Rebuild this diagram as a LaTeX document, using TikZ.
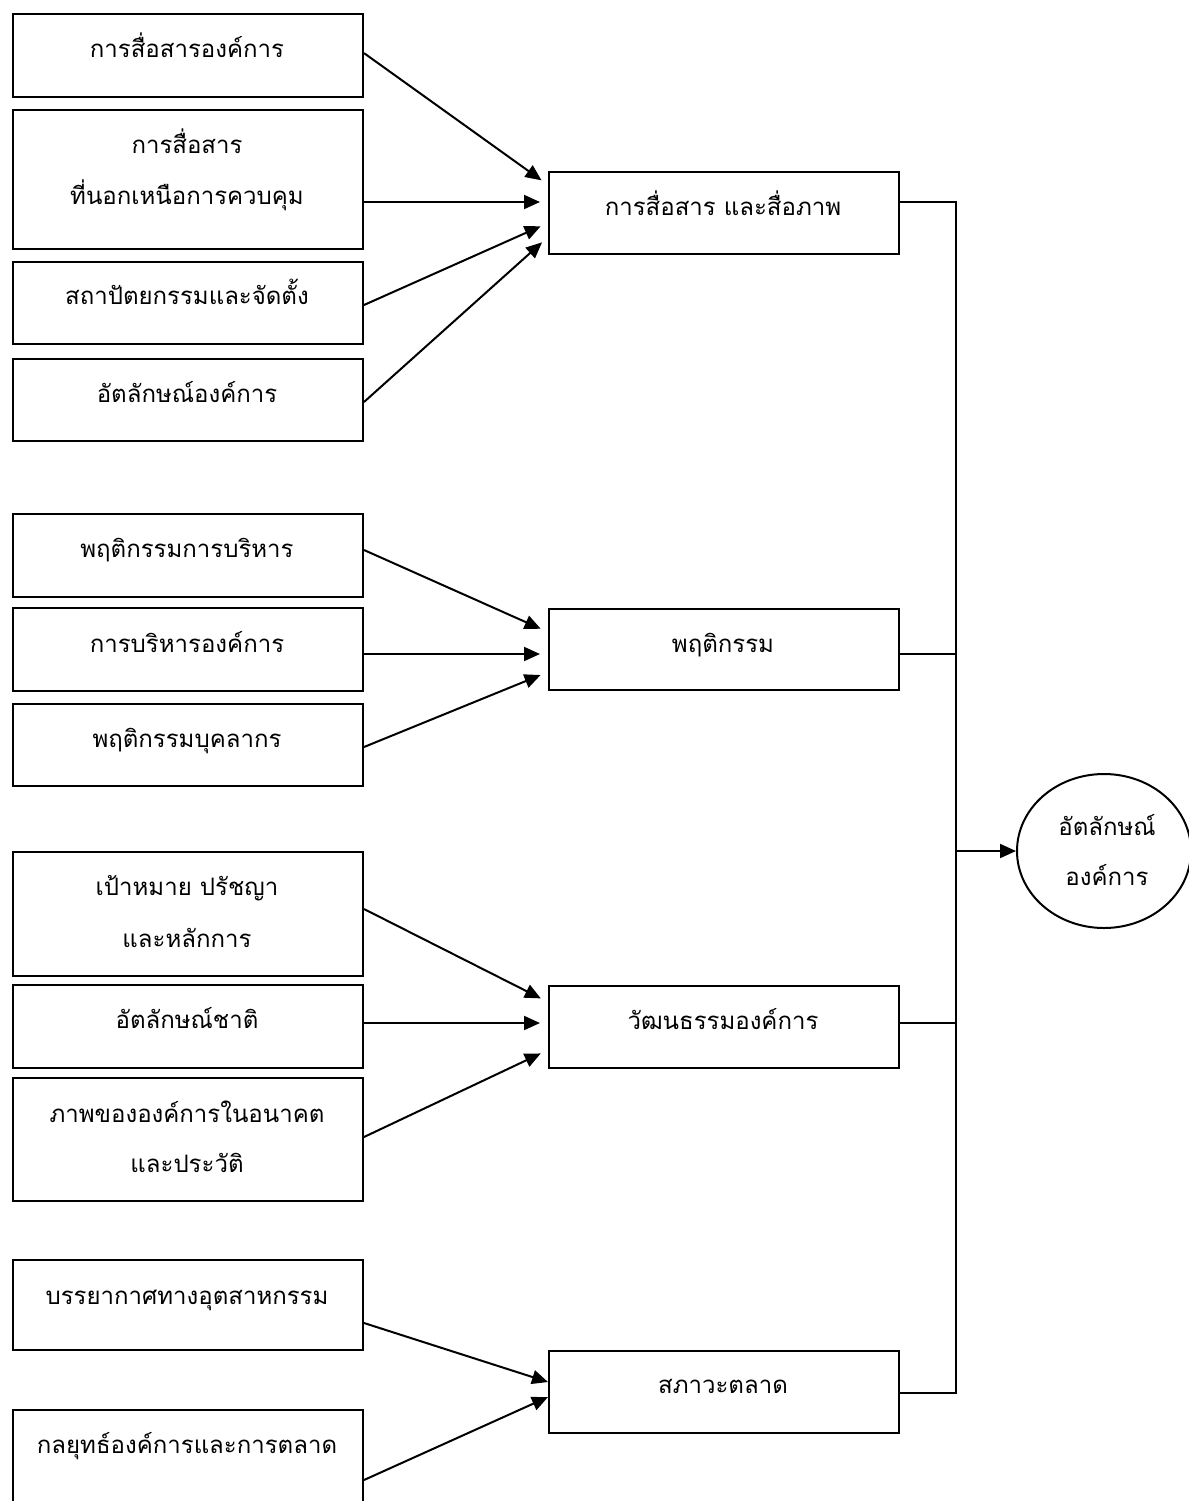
\documentclass[tikz,border=0pt]{standalone}
\usepackage{fontspec}
\newfontfamily\thaifont[Script=Thai]{Loma}
\usetikzlibrary{arrows.meta,shapes.geometric}

\begin{document}
\begin{tikzpicture}[
  x=0.5pt, y=-0.5pt,
  box/.style={draw, line width=1pt, anchor=north west, inner sep=0pt,
              minimum width=175pt},
  txt/.style={anchor=base, inner sep=0pt, font=\thaifont\fontsize{12pt}{14pt}\selectfont},
  link/.style={line width=1pt},
  tip/.style={-{Triangle[length=8pt,width=7pt]}},
  arrowline/.style={line width=1pt, tip, shorten >=4pt},
  arrowtouch/.style={line width=1pt, tip}
]
\clip (0,0) rectangle (1189,1501);

% ---- left column: factor boxes ----
\node[box, minimum height=41.5pt] (L1)  at (12,12.7) {};
\node[box, minimum height=69.5pt] (L2)  at (12,109)  {};
\node[box, minimum height=41pt]   (L3)  at (12,261)  {};
\node[box, minimum height=41pt]   (L4)  at (12,358)  {};
\node[box, minimum height=41.5pt] (L5)  at (12,513)  {};
\node[box, minimum height=41.5pt] (L6)  at (12,607)  {};
\node[box, minimum height=41pt]   (L7)  at (12,703)  {};
\node[box, minimum height=62pt]   (L8)  at (12,851)  {};
\node[box, minimum height=41.5pt] (L9)  at (12,984)  {};
\node[box, minimum height=61.5pt] (L10) at (12,1077) {};
\node[box, minimum height=45pt]   (L11) at (12,1259) {};
\node[box, minimum height=60pt]   (L12) at (12,1409) {};

\node[txt] (L1a)  at (187,57)   {การสื่อสารองค์การ};
\node[txt] (L2a)  at (187,153)  {การสื่อสาร};
\node[txt] (L2b)  at (187,204)  {ที่นอกเหนือการควบคุม};
\node[txt] (L3a)  at (187,304)  {สถาปัตยกรรมและจัดตั้ง};
\node[txt] (L4a)  at (187,402)  {อัตลักษณ์องค์การ};
\node[txt] (L5a)  at (187,557)  {พฤติกรรมการบริหาร};
\node[txt] (L6a)  at (187,652)  {การบริหารองค์การ};
\node[txt] (L7a)  at (187,747)  {พฤติกรรมบุคลากร};
\node[txt] (L8a)  at (187,895)  {เป้าหมาย ปรัชญา};
\node[txt] (L8b)  at (187,947)  {และหลักการ};
\node[txt] (L9a)  at (187,1028) {อัตลักษณ์ชาติ};
\node[txt] (L10a) at (187,1122) {ภาพขององค์การในอนาคต};
\node[txt] (L10b) at (187,1172) {และประวัติ};
\node[txt] (L11a) at (187,1304) {บรรยากาศทางอุตสาหกรรม};
\node[txt] (L12a) at (187,1453) {กลยุทธ์องค์การและการตลาด};

% ---- middle column: component boxes ----
\node[box, minimum height=41pt]   (M1) at (548,171)  {};
\node[box, minimum height=40.5pt] (M2) at (548,608)  {};
\node[box, minimum height=41pt]   (M3) at (548,985)  {};
\node[box, minimum height=41pt]   (M4) at (548,1350) {};

\node[txt] (M1a) at (723,215)  {การสื่อสาร และสื่อภาพ};
\node[txt] (M2a) at (723,652)  {พฤติกรรม};
\node[txt] (M3a) at (723,1029) {วัฒนธรรมองค์การ};
\node[txt] (M4a) at (723,1393) {สภาวะตลาด};

% ---- outcome ----
\node[ellipse, draw, line width=1pt, inner sep=0pt,
      minimum width=87pt, minimum height=77pt] (R) at (1104,851) {};
\node[txt] (Ra) at (1107,835) {อัตลักษณ์};
\node[txt] (Rb) at (1107,885) {องค์การ};

% ---- arrows into the components ----
\draw[arrowline] ([yshift=-20.2pt]L1.north east) -- ([yshift=-7pt]M1.north west);
\draw[arrowline] ([yshift=-46.5pt]L2.north east) -- ([yshift=-15.5pt]M1.north west);
\draw[arrowline] ([yshift=-22pt]L3.north east)   -- ([yshift=-26pt]M1.north west);
\draw[arrowline] ([yshift=-22pt]L4.north east)   -- ([yshift=-33pt]M1.north west);

\draw[arrowline] ([yshift=-18.5pt]L5.north east) -- ([yshift=-12pt]M2.north west);
\draw[arrowline] ([yshift=-23.5pt]L6.north east) -- ([yshift=-23pt]M2.north west);
\draw[arrowline] ([yshift=-22pt]L7.north east)   -- ([yshift=-32pt]M2.north west);

\draw[arrowline] ([yshift=-29pt]L8.north east)   -- ([yshift=-8.5pt]M3.north west);
\draw[arrowline] ([yshift=-19.5pt]L9.north east) -- ([yshift=-19pt]M3.north west);
\draw[arrowline] ([yshift=-30pt]L10.north east)  -- ([yshift=-32.5pt]M3.north west);

\draw[arrowtouch] ([yshift=-32pt]L11.north east) -- ([yshift=-16pt]M4.north west);
\draw[arrowtouch] ([yshift=-35.5pt]L12.north east) -- ([yshift=-23.5pt]M4.north west);

% ---- collector bus to the outcome ----
\coordinate (b1) at (956,202);
\coordinate (b2) at (956,654);
\coordinate (b3) at (956,1023);
\coordinate (b4) at (956,1393);
\coordinate (bmid) at (956,851);
\draw[link] ([yshift=-15.5pt]M1.north east) -- (b1) -- (b4) -- ([yshift=-21.5pt]M4.north east);
\draw[link] ([yshift=-23pt]M2.north east) -- (b2);
\draw[link] ([yshift=-19pt]M3.north east) -- (b3);
\draw[arrowtouch] (bmid) -- (R.west);
\end{tikzpicture}
\end{document}
